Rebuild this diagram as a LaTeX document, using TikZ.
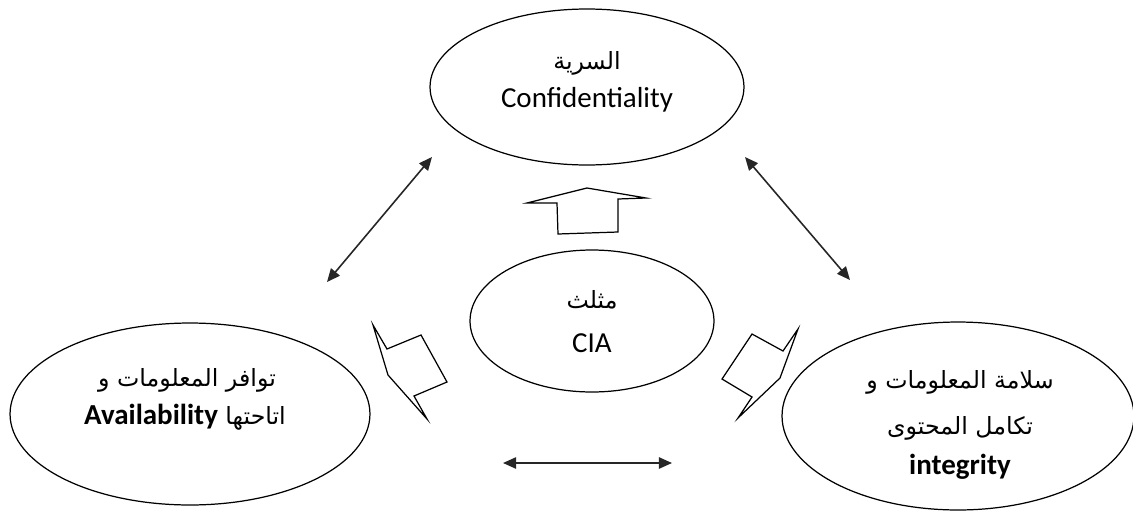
\documentclass[tikz,border=0pt]{standalone}
\usepackage{fontspec}
\setmainfont{Carlito}
\newfontfamily\arabicfont[Script=Arabic]{DejaVu Sans}
\TeXXeTstate=1
\usetikzlibrary{arrows.meta, shapes.geometric}

\begin{document}
\begin{tikzpicture}[
    x=0.02cm, y=-0.02cm,
    oval/.style={
        draw,
        ellipse,
        line width=0.7pt,
        inner sep=0pt
    },
    entxt/.style={font=\fontsize{16.5}{18}\selectfont},
    artxt/.style={font=\arabicfont\fontsize{13.5}{16}\selectfont},
    dblarrow/.style={{Triangle[length=7.5pt,width=6.5pt]}-{Triangle[length=7.5pt,width=6.5pt]}, line width=0.9pt, black!85},
    blockarrow/.style={draw, line width=0.7pt, line join=miter}
]
\useasboundingbox (0,0) rectangle (1133,511);

\node[oval, minimum width=6.28cm, minimum height=3.12cm] (conf) at (587,87) {};
\node[oval, minimum width=4.88cm, minimum height=2.84cm] (cia) at (592,321) {};
\node[oval, minimum width=7.2cm, minimum height=3.64cm] (avail) at (190,414) {};
\node[oval, minimum width=7.04cm, minimum height=3.76cm] (integ) at (958,416) {};

\node[artxt] (conf-ar) at (587,63) {\beginR السرية\endR};
\node[entxt] (conf-en) at (587,100) {Confidentiality};
\node[artxt] (cia-ar) at (592,300) {\beginR مثلث\endR};
\node[entxt] (cia-en) at (592,343) {CIA};
\node[artxt] (avail-ar) at (187,380) {\beginR توافر المعلومات و\endR};
\node[artxt] (avail-mix) at (185,417) {\beginR اتاحتها \beginL{\rmfamily\bfseries\fontsize{16.5}{18}\selectfont Availability}\endL\endR};
\node[artxt] (integ-ar1) at (960,382) {\beginR سلامة المعلومات و\endR};
\node[artxt] (integ-ar2) at (960,428) {\beginR تكامل المحتوى\endR};
\node[entxt, font=\fontsize{16.5}{18}\selectfont\bfseries] (integ-en) at (960,467) {integrity};

\coordinate (lt-a) at (327,282);
\coordinate (lt-b) at (432,157);
\coordinate (rt-a) at (745,157);
\coordinate (rt-b) at (850,280);
\coordinate (bt-a) at (503,463);
\coordinate (bt-b) at (672,463);

\draw[dblarrow] (lt-a) -- (lt-b);
\draw[dblarrow] (rt-a) -- (rt-b);
\draw[dblarrow] (bt-a) -- (bt-b);

\draw[blockarrow] (587,188) -- (646,198) -- (618,199) -- (618,232) -- (558,234) -- (557,203) -- (527,203) -- cycle;
\draw[blockarrow] (373,325) -- (387,349) -- (421,335) -- (447,382) -- (414,396) -- (427,419) -- (388,375) -- cycle;
\draw[blockarrow] (798,329) -- (780,378) -- (738,418) -- (752,397) -- (722,379) -- (752,334) -- (783,351) -- cycle;
\end{tikzpicture}
\end{document}
